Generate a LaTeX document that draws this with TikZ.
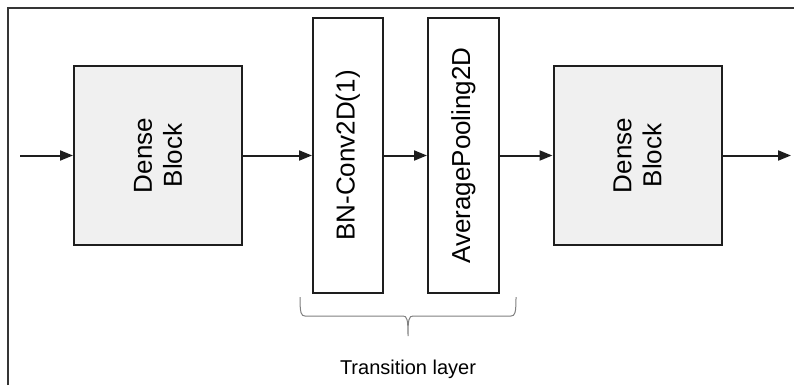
\documentclass[tikz,border=0pt]{standalone}
\usepackage{fontspec}
\setmainfont{Liberation Sans}
\usetikzlibrary{arrows.meta,positioning}
\definecolor{blockgray}{HTML}{F0F0F0}
\definecolor{linegray}{HTML}{1E1E1E}
\tikzset{
  layerbox/.style={
    draw=linegray, line width=2pt, rotate=90, align=center,
    font=\fontsize{26}{30}\selectfont, inner sep=0pt
  },
  denseblock/.style={
    layerbox, fill=blockgray,
    minimum width=179pt, minimum height=168pt
  },
  translayer/.style={
    layerbox, fill=white,
    minimum width=275pt, minimum height=70pt
  },
  flow/.style={
    -{Triangle[length=13pt,width=10pt]}, draw=linegray, line width=2pt
  },
  bracket/.style={draw=gray, line width=1pt}
}
\begin{document}
\begin{tikzpicture}[x=1pt,y=-1pt]
  \useasboundingbox (0,0) rectangle (794,385);
  \draw[linegray!90, line width=1.6pt] (8,385) |- (794,8);

  \node[denseblock] (dense1) at (158,155.5) {Dense\\Block};
  \node[translayer] (conv) at (348,155.5) {BN-Conv2D(1)};
  \node[translayer, minimum height=71pt] (pool) at (463.5,155.5) {AveragePooling2D};
  \node[denseblock] (dense2) at (637.5,155.5) {Dense\\Block};

  \coordinate (in) at (20,155.5);
  \coordinate (out) at (791,155.5);

  \draw[flow] (in) -- (dense1);
  \draw[flow] (dense1) -- (conv);
  \draw[flow] (conv) -- (pool);
  \draw[flow] (pool) -- (dense2);
  \draw[flow] (dense2) -- (out);

  % brace under the transition layer
  \coordinate (brL) at (300,297);
  \coordinate (brR) at (516,297);
  \coordinate (brtip) at (408,336);
  \draw[bracket] (brL) .. controls (300,313) and (301,316) .. (305,316)
    -- (403,316) .. controls (407,316) and (408,319) .. (brtip)
    .. controls (408,319) and (409,316) .. (413,316)
    -- (511,316) .. controls (515,316) and (516,313) .. (brR);

  \node[below=20pt of brtip, font=\fontsize{20}{24}\selectfont] (translabel) {Transition layer};
\end{tikzpicture}
\end{document}
